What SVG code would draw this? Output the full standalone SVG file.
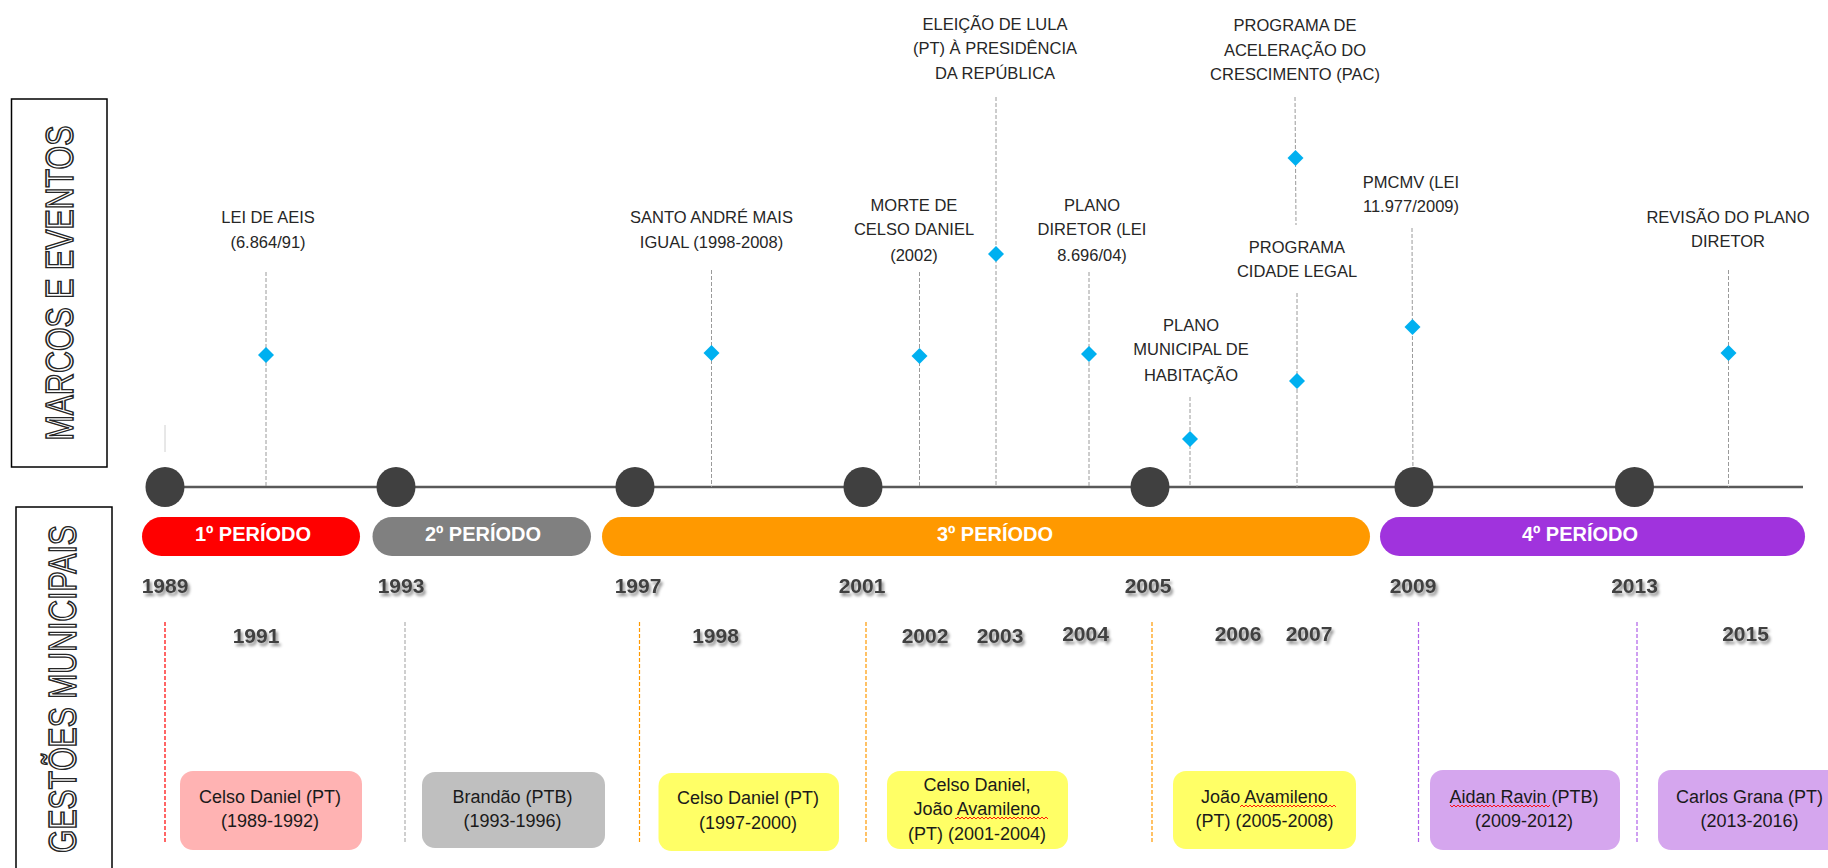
<svg xmlns="http://www.w3.org/2000/svg" width="1828" height="868" viewBox="0 0 1828 868">
<style>
text{font-family:"Liberation Sans",Arial,sans-serif}
.ev{font-size:16.5px;fill:#262626;text-anchor:middle}
.bx{font-size:18px;fill:#1a1a1a;text-anchor:middle}
.pt{font-size:20px;font-weight:bold;fill:#fff;text-anchor:middle}
.yr{font-size:21px;font-weight:bold;fill:#404040;text-anchor:middle;filter:url(#sh)}
.vt{font-size:39px;fill:#fff;stroke:#262626;stroke-width:1.6;text-anchor:middle}
.dl{stroke:#9a9a9a;stroke-width:1;stroke-dasharray:4 2;fill:none}
.bl{stroke-width:1.2;stroke-dasharray:4 2;fill:none}
.dot{fill:#404040}
.dia{fill:#00B0F0}
</style>
<defs>
<filter id="sh" x="-20%" y="-30%" width="150%" height="180%">
<feDropShadow dx="2" dy="3" stdDeviation="1.8" flood-color="#000" flood-opacity="0.45"/>
</filter>
<path id="dm" d="M0,-8 L8,0 L0,8 L-8,0Z"/>
<pattern id="sq" width="4" height="4" patternUnits="userSpaceOnUse">
<path d="M0,3 L2,1 L4,3" stroke="#ff0000" stroke-width="0.9" fill="none"/>
</pattern>
</defs>
<rect width="1828" height="868" fill="#fff"/>

<g id="label-marcos">
<rect x="11.5" y="99" width="95.5" height="368" fill="none" stroke="#000" stroke-width="1.5"/>
<text class="vt" transform="translate(72.5,283) rotate(-90)" textLength="315" lengthAdjust="spacingAndGlyphs">MARCOS E EVENTOS</text>
</g>
<g id="label-gestoes">
<rect x="16" y="507" width="96" height="380" fill="none" stroke="#000" stroke-width="1.5"/>
<text class="vt" transform="translate(75.5,689) rotate(-90)" textLength="328" lengthAdjust="spacingAndGlyphs">GESTÕES MUNICIPAIS</text>
</g>

<g id="connectors">
<line x1="165" y1="487" x2="1803" y2="487" stroke="#595959" stroke-width="2.5"/>
<line x1="165" y1="425" x2="165" y2="452" stroke="#d0d0d0" stroke-width="1"/>
<line class="dl" x1="266" y1="272" x2="266" y2="487"/>
<line class="dl" x1="711.5" y1="270" x2="711.5" y2="487"/>
<line class="dl" x1="919.5" y1="272" x2="919.5" y2="487"/>
<line class="dl" x1="996" y1="97" x2="996" y2="487"/>
<line class="dl" x1="1089" y1="272" x2="1089" y2="487"/>
<line class="dl" x1="1190" y1="397" x2="1190" y2="487"/>
<line class="dl" x1="1295" y1="97" x2="1296" y2="225"/>
<line class="dl" x1="1297" y1="293" x2="1297" y2="487"/>
<line class="dl" x1="1412" y1="228" x2="1413" y2="487"/>
<line class="dl" x1="1728.5" y1="270" x2="1728.5" y2="487"/>
<line class="bl" stroke="#ff0000" x1="165" y1="622" x2="165" y2="842"/>
<line class="bl" stroke="#b0b0b0" x1="405" y1="622" x2="405" y2="842"/>
<line class="bl" stroke="#ff9900" x1="639.5" y1="622" x2="639.5" y2="842"/>
<line class="bl" stroke="#ff9900" x1="866" y1="622" x2="866" y2="842"/>
<line class="bl" stroke="#ff9900" x1="1152" y1="622" x2="1152" y2="842"/>
<line class="bl" stroke="#b060e8" x1="1418.5" y1="622" x2="1418.5" y2="842"/>
<line class="bl" stroke="#b060e8" x1="1637" y1="622" x2="1637" y2="842"/>
</g>

<g id="year-dots">
<ellipse class="dot" cx="165" cy="487" rx="19.5" ry="20"/>
<ellipse class="dot" cx="396" cy="487" rx="19.5" ry="20"/>
<ellipse class="dot" cx="635" cy="487" rx="19.5" ry="20"/>
<ellipse class="dot" cx="863" cy="487" rx="19.5" ry="20"/>
<ellipse class="dot" cx="1150" cy="487" rx="19.5" ry="20"/>
<ellipse class="dot" cx="1414" cy="487" rx="19.5" ry="20"/>
<ellipse class="dot" cx="1634.5" cy="487" rx="19.5" ry="20"/>
</g>

<g id="ev-aeis">
<use href="#dm" class="dia" x="266" y="355"/>
<text class="ev" x="268" y="223">LEI DE AEIS</text>
<text class="ev" x="268" y="248">(6.864/91)</text>
</g>
<g id="ev-santoandre">
<use href="#dm" class="dia" x="711.5" y="353"/>
<text class="ev" x="711.5" y="223">SANTO ANDRÉ MAIS</text>
<text class="ev" x="711.5" y="248">IGUAL (1998-2008)</text>
</g>
<g id="ev-morte">
<use href="#dm" class="dia" x="919.5" y="356"/>
<text class="ev" x="914" y="211">MORTE DE</text>
<text class="ev" x="914" y="235">CELSO DANIEL</text>
<text class="ev" x="914" y="261">(2002)</text>
</g>
<g id="ev-lula">
<use href="#dm" class="dia" x="996" y="254"/>
<text class="ev" x="995" y="30">ELEIÇÃO DE LULA</text>
<text class="ev" x="995" y="54">(PT) À PRESIDÊNCIA</text>
<text class="ev" x="995" y="79">DA REPÚBLICA</text>
</g>
<g id="ev-planodiretor">
<use href="#dm" class="dia" x="1089" y="354"/>
<text class="ev" x="1092" y="211">PLANO</text>
<text class="ev" x="1092" y="235">DIRETOR (LEI</text>
<text class="ev" x="1092" y="261">8.696/04)</text>
</g>
<g id="ev-habitacao">
<use href="#dm" class="dia" x="1190" y="439"/>
<text class="ev" x="1191" y="331">PLANO</text>
<text class="ev" x="1191" y="355">MUNICIPAL DE</text>
<text class="ev" x="1191" y="381">HABITAÇÃO</text>
</g>
<g id="ev-pac">
<use href="#dm" class="dia" x="1295.5" y="158"/>
<text class="ev" x="1295" y="31">PROGRAMA DE</text>
<text class="ev" x="1295" y="56">ACELERAÇÃO DO</text>
<text class="ev" x="1295" y="80">CRESCIMENTO (PAC)</text>
</g>
<g id="ev-cidadelegal">
<use href="#dm" class="dia" x="1297" y="381"/>
<text class="ev" x="1297" y="253">PROGRAMA</text>
<text class="ev" x="1297" y="277">CIDADE LEGAL</text>
</g>
<g id="ev-pmcmv">
<use href="#dm" class="dia" x="1412.5" y="327"/>
<text class="ev" x="1411" y="188">PMCMV (LEI</text>
<text class="ev" x="1411" y="212">11.977/2009)</text>
</g>
<g id="ev-revisao">
<use href="#dm" class="dia" x="1728.5" y="353"/>
<text class="ev" x="1728" y="223">REVISÃO DO PLANO</text>
<text class="ev" x="1728" y="247">DIRETOR</text>
</g>

<g id="period-1">
<rect x="142" y="517" width="218" height="39" rx="19.5" fill="#ff0000"/>
<text class="pt" x="253" y="541">1º PERÍODO</text>
</g>
<g id="period-2">
<rect x="372.5" y="517" width="218.5" height="39" rx="19.5" fill="#808080"/>
<text class="pt" x="483" y="541">2º PERÍODO</text>
</g>
<g id="period-3">
<rect x="602" y="517" width="768" height="39" rx="19.5" fill="#ff9900"/>
<text class="pt" x="995" y="541">3º PERÍODO</text>
</g>
<g id="period-4">
<rect x="1380" y="517" width="425" height="39" rx="19.5" fill="#a033dd"/>
<text class="pt" x="1580" y="541">4º PERÍODO</text>
</g>

<g id="years">
<text class="yr" x="165" y="593">1989</text>
<text class="yr" x="401" y="593">1993</text>
<text class="yr" x="638" y="593">1997</text>
<text class="yr" x="862" y="593">2001</text>
<text class="yr" x="1148" y="593">2005</text>
<text class="yr" x="1413" y="593">2009</text>
<text class="yr" x="1634.5" y="593">2013</text>
<text class="yr" x="256" y="643">1991</text>
<text class="yr" x="715.5" y="643">1998</text>
<text class="yr" x="925" y="643">2002</text>
<text class="yr" x="1000" y="643">2003</text>
<text class="yr" x="1085.5" y="641">2004</text>
<text class="yr" x="1238" y="641">2006</text>
<text class="yr" x="1309" y="641">2007</text>
<text class="yr" x="1745.5" y="641">2015</text>
</g>

<g id="gestao-1989">
<rect x="180" y="771" width="182" height="79" rx="13" fill="#ffb3b3"/>
<text class="bx" x="270" y="803">Celso Daniel (PT)</text>
<text class="bx" x="270" y="827">(1989-1992)</text>
</g>
<g id="gestao-1993">
<rect x="422" y="772" width="183" height="76" rx="13" fill="#bfbfbf"/>
<text class="bx" x="512.5" y="803">Brandão (PTB)</text>
<text class="bx" x="512.5" y="827">(1993-1996)</text>
</g>
<g id="gestao-1997">
<rect x="658.5" y="773" width="180.5" height="78" rx="13" fill="#ffff66"/>
<text class="bx" x="748" y="804">Celso Daniel (PT)</text>
<text class="bx" x="748" y="829">(1997-2000)</text>
</g>
<g id="gestao-2001">
<rect x="887" y="771" width="181" height="78" rx="13" fill="#ffff66"/>
<text class="bx" x="977" y="791">Celso Daniel,</text>
<text class="bx" x="977" y="815">João Avamileno</text>
<text class="bx" x="977" y="840">(PT) (2001-2004)</text>
<rect x="955" y="816" width="93" height="4" fill="url(#sq)"/>
</g>
<g id="gestao-2005">
<rect x="1173" y="771" width="183" height="78" rx="13" fill="#ffff66"/>
<text class="bx" x="1264.5" y="803">João Avamileno</text>
<text class="bx" x="1264.5" y="827">(PT) (2005-2008)</text>
<rect x="1240" y="804" width="96" height="4" fill="url(#sq)"/>
</g>
<g id="gestao-2009">
<rect x="1430" y="770" width="190" height="80" rx="13" fill="#d5a6ee"/>
<text class="bx" x="1524" y="803">Aidan Ravin (PTB)</text>
<text class="bx" x="1524" y="827">(2009-2012)</text>
<rect x="1450" y="804" width="100" height="4" fill="url(#sq)"/>
</g>
<g id="gestao-2013">
<rect x="1658" y="770" width="200" height="80" rx="13" fill="#d5a6ee"/>
<text class="bx" x="1749.5" y="803">Carlos Grana (PT)</text>
<text class="bx" x="1749.5" y="827">(2013-2016)</text>
</g>
</svg>
